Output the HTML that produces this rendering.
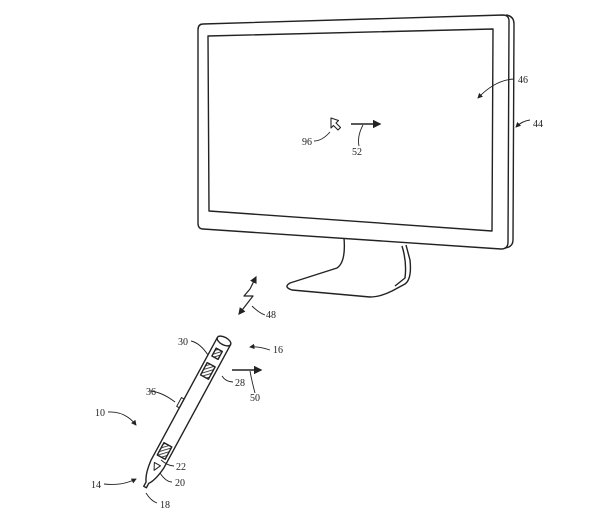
<!DOCTYPE html>
<html><head><style>
body{margin:0;background:#fff;}
svg{display:block}
text{font-family:"Liberation Serif",serif;font-size:10px;fill:#222}
</style></head><body>
<svg width="600" height="517" viewBox="0 0 600 517" xmlns="http://www.w3.org/2000/svg">
<defs>
<pattern id="h" width="3" height="3" patternUnits="userSpaceOnUse" patternTransform="rotate(45)">
<rect width="3" height="3" fill="#fff"/><line x1="0" y1="0" x2="0" y2="3" stroke="#333" stroke-width="1.8"/></pattern>
<marker id="a" markerWidth="6" markerHeight="6" refX="5" refY="3" orient="auto"><path d="M0,0 L6,3 L0,6 z" fill="#222"/></marker>
</defs>
<g fill="none" stroke="#222" stroke-width="1.4" stroke-linejoin="round">
<path d="M506,15 Q514,16 514,24 L513,240 Q513,247 505,248"/>
<path d="M203,24 L503,15 Q509,15 509,21 L508,242 Q508,249 501,249 L203,229 Q198,229 198,223 L198,30 Q198,24 203,24 Z"/>
<path d="M208,36 L493,29 L492,231 L209,211 Z"/>
<path d="M344,238 Q346,262 337,268 L290,283 Q283,287 292,290 L370,297 Q380,297 392,291 L405,284 Q412,279 410,260 L406,245"/>
<path d="M402,246 Q407,262 405,278 L395,286"/>
<path d="M331,118 L331,128 L333.5,125.5 L338,130 L340.5,127.5 L336,123 L338.5,120.5 Z" stroke-width="1.1"/>
<line x1="351" y1="124" x2="380" y2="124" marker-end="url(#a)" stroke-width="1.4"/>
<path d="M314,141 Q322,141 330,132" stroke-width="0.9"/>
<path d="M359,146 Q357,136 363,125" stroke-width="0.9"/>
<path d="M514,79 Q495,80 478,98" stroke-width="0.9" marker-end="url(#a)"/>
<path d="M530,120 Q522,121 516,127" stroke-width="0.9" marker-end="url(#a)"/>
<!-- lightning 48 -->
<path d="M250,289 L244,296 L253,296 L239,314" stroke-width="1.2" marker-end="url(#a)"/>
<path d="M250,289 L256,277" stroke-width="1.2" marker-end="url(#a)"/>
<path d="M252,306 Q259,313 265,315" stroke-width="0.9"/>
<line x1="232" y1="370" x2="261" y2="370" marker-end="url(#a)" stroke-width="1.4"/>
<path d="M255,393 Q252,382 250,371" stroke-width="0.9"/>
<path d="M270,350 Q258,346 250,347" stroke-width="0.9" marker-end="url(#a)"/>
<path d="M108,412 Q125,411 136,425" stroke-width="0.9" marker-end="url(#a)"/>
<path d="M104,484 Q122,486 136,479" stroke-width="0.9" marker-end="url(#a)"/>
<!-- pen -->
<g transform="translate(224,341) rotate(28.4)">
<path d="M-7.5,0 L-7.5,140 Q-6,155 -1.5,161 L-1.5,166 L1.5,166 L1.5,161 Q6,155 7.5,140 L7.5,0"/>
<ellipse cx="0" cy="0" rx="7.5" ry="3.8"/>
<rect x="-3.5" y="10" width="7" height="9" fill="url(#h)"/>
<rect x="-4.5" y="27" width="9" height="14" fill="url(#h)"/>
<rect x="-4.5" y="118" width="9" height="14" fill="url(#h)"/>
<path d="M-3.5,140 L3.5,140 L0,147 Z" stroke-width="1"/>
<rect x="-10.5" y="70" width="3" height="10" stroke-width="1"/>
</g>
<path d="M191,341 Q200,343 208,355" stroke-width="0.9"/>
<path d="M222,376 Q226,382 233,382" stroke-width="0.9"/>
<path d="M150,391 Q162,392 175,402" stroke-width="0.9"/>
<path d="M161,460 Q168,466 174,466" stroke-width="0.9"/>
<path d="M160,473 Q166,482 172,482" stroke-width="0.9"/>
<path d="M146,493 Q151,501 157,503" stroke-width="0.9"/>
</g>
<text x="302" y="145">96</text>
<text x="352" y="155">52</text>
<text x="518" y="83">46</text>
<text x="533" y="127">44</text>
<text x="266" y="318">48</text>
<text x="273" y="353">16</text>
<text x="178" y="345">30</text>
<text x="235" y="386">28</text>
<text x="250" y="401">50</text>
<text x="146" y="395">36</text>
<text x="95" y="416">10</text>
<text x="176" y="470">22</text>
<text x="175" y="486">20</text>
<text x="91" y="488">14</text>
<text x="160" y="508">18</text>
</svg>
</body></html>
